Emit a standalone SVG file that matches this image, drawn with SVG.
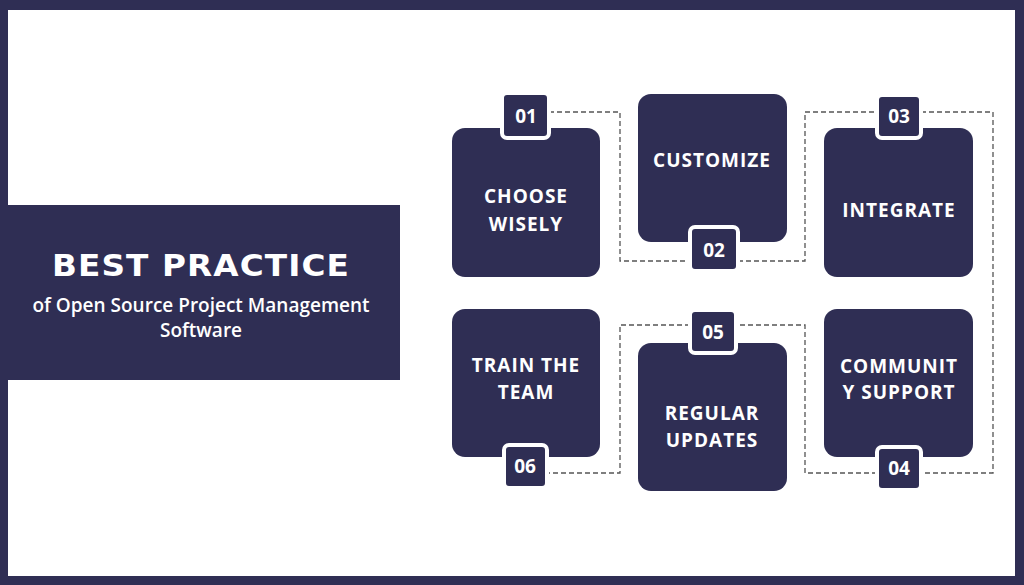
<svg xmlns="http://www.w3.org/2000/svg" width="1024" height="585" viewBox="0 0 1024 585">
<style>
.card{fill:#2f2e54}
.badge{fill:#2f2e54;stroke:#ffffff;stroke-width:4}
.lbl{font-family:"Open Sans","Liberation Sans",sans-serif;font-weight:700;font-size:19px;fill:#ffffff;text-anchor:middle;letter-spacing:1px}
.num{font-family:"Open Sans","Liberation Sans",sans-serif;font-weight:700;font-size:19px;fill:#ffffff;text-anchor:middle}
.conn{fill:none;stroke:#555555;stroke-width:1.3;stroke-dasharray:5 3}
</style>
<rect x="0" y="0" width="1024" height="585" fill="#2f2e54"/>
<rect x="8" y="10" width="1007" height="566" fill="#ffffff"/>
<g id="title">
<rect x="0" y="205" width="400" height="175" fill="#2f2e54"/>
<text x="201" y="276" font-family="'DejaVu Sans','Liberation Sans',sans-serif" font-weight="700" font-size="30" fill="#ffffff" text-anchor="middle" letter-spacing="1" textLength="298" lengthAdjust="spacingAndGlyphs">BEST PRACTICE</text>
<text x="201" y="312" font-family="'Open Sans','Liberation Sans',sans-serif" font-weight="600" font-size="19" fill="#ffffff" text-anchor="middle">of Open Source Project Management</text>
<text x="201" y="337" font-family="'Open Sans','Liberation Sans',sans-serif" font-weight="600" font-size="19" fill="#ffffff" text-anchor="middle">Software</text>
</g>
<g id="connectors">
<polyline class="conn" points="549,112 620,112 620,261 690,261"/>
<polyline class="conn" points="738,261 805,261 805,112 877,112"/>
<polyline class="conn" points="921,112 993,112 993,473 921,473"/>
<polyline class="conn" points="877,473 805,473 805,325 736,325"/>
<polyline class="conn" points="690,325 620,325 620,473 547,473"/>
</g>
<g id="node1">
<rect class="card" x="452" y="128" width="148" height="149" rx="13"/>
<rect class="badge" x="502" y="93" width="47" height="45" rx="5"/>
<text class="num" x="526" y="123">01</text>
<text class="lbl" x="526" y="203">CHOOSE</text>
<text class="lbl" x="526" y="231">WISELY</text>
</g>
<g id="node2">
<rect class="card" x="638" y="94" width="149" height="148" rx="13"/>
<rect class="badge" x="690" y="227" width="48" height="44" rx="5"/>
<text class="num" x="714" y="257">02</text>
<text class="lbl" x="712" y="167">CUSTOMIZE</text>
</g>
<g id="node3">
<rect class="card" x="824" y="128" width="149" height="149" rx="13"/>
<rect class="badge" x="877" y="95" width="44" height="43" rx="5"/>
<text class="num" x="899" y="123">03</text>
<text class="lbl" x="899" y="217">INTEGRATE</text>
</g>
<g id="node4">
<rect class="card" x="824" y="309" width="149" height="148" rx="13"/>
<rect class="badge" x="877" y="447" width="44" height="43" rx="5"/>
<text class="num" x="899" y="475">04</text>
<text class="lbl" x="899" y="373">COMMUNIT</text>
<text class="lbl" x="899" y="399">Y SUPPORT</text>
</g>
<g id="node5">
<rect class="card" x="638" y="343" width="149" height="148" rx="13"/>
<rect class="badge" x="690" y="310" width="46" height="43" rx="5"/>
<text class="num" x="713" y="339">05</text>
<text class="lbl" x="712" y="420">REGULAR</text>
<text class="lbl" x="712" y="447">UPDATES</text>
</g>
<g id="node6">
<rect class="card" x="452" y="309" width="148" height="148" rx="13"/>
<rect class="badge" x="504" y="445" width="43" height="43" rx="5"/>
<text class="num" x="525" y="473">06</text>
<text class="lbl" x="526" y="372">TRAIN THE</text>
<text class="lbl" x="526" y="399">TEAM</text>
</g>
</svg>
